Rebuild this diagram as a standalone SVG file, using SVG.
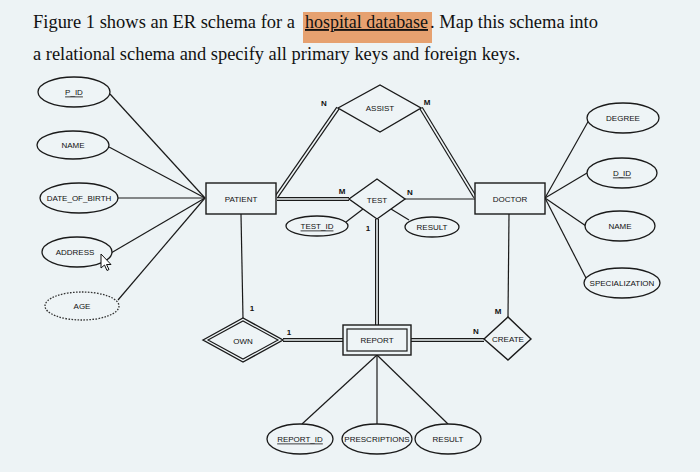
<svg xmlns="http://www.w3.org/2000/svg" width="700" height="472" viewBox="0 0 700 472">
<defs>
<style>
.bg{fill:#edf3f5}
.title{font-family:"Liberation Serif","Times New Roman",serif;font-size:18.5px;fill:#111}
.box{fill:#eef4f6;stroke:#1a1a1a;stroke-width:1.4}
.att{fill:#eef4f6;stroke:#1a1a1a;stroke-width:1.3}
.der{fill:#eef4f6;stroke:#333;stroke-width:1.3;stroke-dasharray:1.6 1.4}
.t{font-family:"Liberation Sans",Arial,sans-serif;font-size:8px;fill:#111;text-anchor:middle;dominant-baseline:central}
.u{text-decoration:underline;fill:#111}
.card{font-family:"Liberation Sans",Arial,sans-serif;font-size:8px;font-weight:bold;fill:#111;text-anchor:middle}
.ln{stroke:#1a1a1a;stroke-width:1.2;fill:none}
.dbo{stroke:#1a1a1a;stroke-width:4;fill:none}
.dbi{stroke:#eef4f6;stroke-width:1.6;fill:none}
</style>
</defs>
<rect class="bg" x="0" y="0" width="700" height="472"/>

<g id="title">
<rect x="303" y="12" width="129" height="31" fill="#e6a170"/>
<text class="title" y="28"><tspan x="33" textLength="262" lengthAdjust="spacingAndGlyphs">Figure 1 shows an ER schema for a</tspan><tspan x="305" textLength="123" lengthAdjust="spacingAndGlyphs" text-decoration="underline">hospital database</tspan><tspan x="430" textLength="168" lengthAdjust="spacingAndGlyphs">. Map this schema into</tspan></text>
<text class="title" x="33" y="60" textLength="487" lengthAdjust="spacingAndGlyphs">a relational schema and specify all primary keys and foreign keys.</text>
</g>

<g id="connectors">
<line class="ln" x1="110" y1="94" x2="205" y2="198"/>
<line class="ln" x1="109" y1="147" x2="205" y2="198"/>
<line class="ln" x1="118" y1="198" x2="205" y2="198"/>
<line class="ln" x1="111" y1="253" x2="205" y2="198"/>
<line class="ln" x1="118" y1="300" x2="205" y2="198"/>
<line class="dbo" x1="277" y1="196" x2="338" y2="108"/>
<line class="dbi" x1="277" y1="196" x2="338" y2="108"/>
<line class="dbo" x1="421" y1="108" x2="475" y2="197"/>
<line class="dbi" x1="421" y1="108" x2="475" y2="197"/>
<line class="dbo" x1="277" y1="199" x2="349" y2="199"/>
<line class="dbi" x1="277" y1="199" x2="349" y2="199"/>
<line class="ln" x1="405" y1="199" x2="475" y2="199"/>
<line class="ln" x1="346" y1="222" x2="363" y2="209"/>
<line class="ln" x1="391" y1="209" x2="409" y2="220"/>
<line class="dbo" x1="377" y1="219" x2="377" y2="325"/>
<line class="dbi" x1="377" y1="219" x2="377" y2="325"/>
<line class="ln" x1="241" y1="214" x2="243" y2="318"/>
<line class="dbo" x1="283" y1="340" x2="343" y2="340"/>
<line class="dbi" x1="283" y1="340" x2="343" y2="340"/>
<line class="dbo" x1="411" y1="340" x2="484" y2="340"/>
<line class="dbi" x1="411" y1="340" x2="484" y2="340"/>
<line class="ln" x1="509" y1="214" x2="508" y2="317"/>
<line class="ln" x1="545" y1="198" x2="589" y2="120"/>
<line class="ln" x1="545" y1="198" x2="587" y2="173"/>
<line class="ln" x1="545" y1="198" x2="586" y2="226"/>
<line class="ln" x1="545" y1="198" x2="587" y2="280"/>
<line class="ln" x1="377" y1="355" x2="302" y2="424"/>
<line class="ln" x1="377" y1="355" x2="377" y2="424"/>
<line class="ln" x1="377" y1="355" x2="448" y2="424"/>
</g>

<g id="cardinalities">
<text class="card" x="324" y="106">N</text>
<text class="card" x="427" y="105">M</text>
<text class="card" x="342" y="194">M</text>
<text class="card" x="410" y="195">N</text>
<text class="card" x="368" y="231">1</text>
<text class="card" x="252" y="311">1</text>
<text class="card" x="289" y="335">1</text>
<text class="card" x="476" y="334">N</text>
<text class="card" x="498" y="314">M</text>
</g>

<g id="p_id"><ellipse class="att" cx="74" cy="92" rx="36" ry="15"/><text class="t u" x="74" y="92">P_ID</text></g>
<g id="p_name"><ellipse class="att" cx="73" cy="145" rx="36" ry="14"/><text class="t" x="73" y="145">NAME</text></g>
<g id="dob"><ellipse class="att" cx="79" cy="198" rx="39" ry="15"/><text class="t" x="79" y="198">DATE_OF_BIRTH</text></g>
<g id="address"><ellipse class="att" cx="77" cy="252" rx="35" ry="15"/><text class="t" x="75" y="252">ADDRESS</text></g>
<g id="age"><ellipse class="der" cx="82" cy="306" rx="37" ry="14"/><text class="t" x="82" y="306">AGE</text></g>

<g id="patient"><rect class="box" x="206" y="183" width="70" height="31"/><text class="t" x="241" y="199">PATIENT</text></g>
<g id="doctor"><rect class="box" x="475" y="183" width="70" height="31"/><text class="t" x="510" y="199">DOCTOR</text></g>

<g id="assist"><polygon class="box" points="338,108 380,85 421,108 380,132"/><text class="t" x="380" y="108">ASSIST</text></g>
<g id="test"><polygon class="box" points="349,199 377,179 405,199 377,219"/><text class="t" x="377" y="200">TEST</text></g>
<g id="test_id"><ellipse class="att" cx="317" cy="226" rx="31" ry="10"/><text class="t u" x="317" y="226">TEST_ID</text></g>
<g id="test_result"><ellipse class="att" cx="432" cy="227" rx="27" ry="10"/><text class="t" x="432" y="227">RESULT</text></g>

<g id="degree"><ellipse class="att" cx="623" cy="118" rx="36" ry="15"/><text class="t" x="623" y="118">DEGREE</text></g>
<g id="d_id"><ellipse class="att" cx="622" cy="173" rx="35" ry="15"/><text class="t u" x="622" y="173">D_ID</text></g>
<g id="d_name"><ellipse class="att" cx="620" cy="226" rx="35" ry="15"/><text class="t" x="620" y="226">NAME</text></g>
<g id="specialization"><ellipse class="att" cx="622" cy="283" rx="38" ry="15"/><text class="t" x="622" y="283">SPECIALIZATION</text></g>

<g id="own">
<polygon class="box" points="203,340 243,318 283,340 243,362" stroke-width="1.4"/>
<polygon points="208,340 243,321 278,340 243,359" fill="none" stroke="#1a1a1a" stroke-width="1.1"/>
<text class="t" x="243" y="341">OWN</text>
</g>
<g id="report">
<rect class="box" x="343" y="325" width="68" height="30"/>
<rect x="347" y="329" width="60" height="22" fill="none" stroke="#1a1a1a" stroke-width="1.2"/>
<text class="t" x="377" y="340">REPORT</text>
</g>
<g id="create"><polygon class="box" points="484,339 508,317 531,339 508,360"/><text class="t" x="508" y="339">CREATE</text></g>

<g id="report_id"><ellipse class="att" cx="300" cy="439" rx="33" ry="15"/><text class="t u" x="300" y="439">REPORT_ID</text></g>
<g id="prescriptions"><ellipse class="att" cx="377" cy="439" rx="35" ry="15"/><text class="t" x="377" y="439">PRESCRIPTIONS</text></g>
<g id="r_result"><ellipse class="att" cx="448" cy="439" rx="33" ry="15"/><text class="t" x="448" y="439">RESULT</text></g>

<g id="cursor"><polygon points="101,254 101,268 104.5,265 107,270.5 109,269.5 106.5,264.5 111,264.5" fill="#fff" stroke="#111" stroke-width="1"/></g>
</svg>
